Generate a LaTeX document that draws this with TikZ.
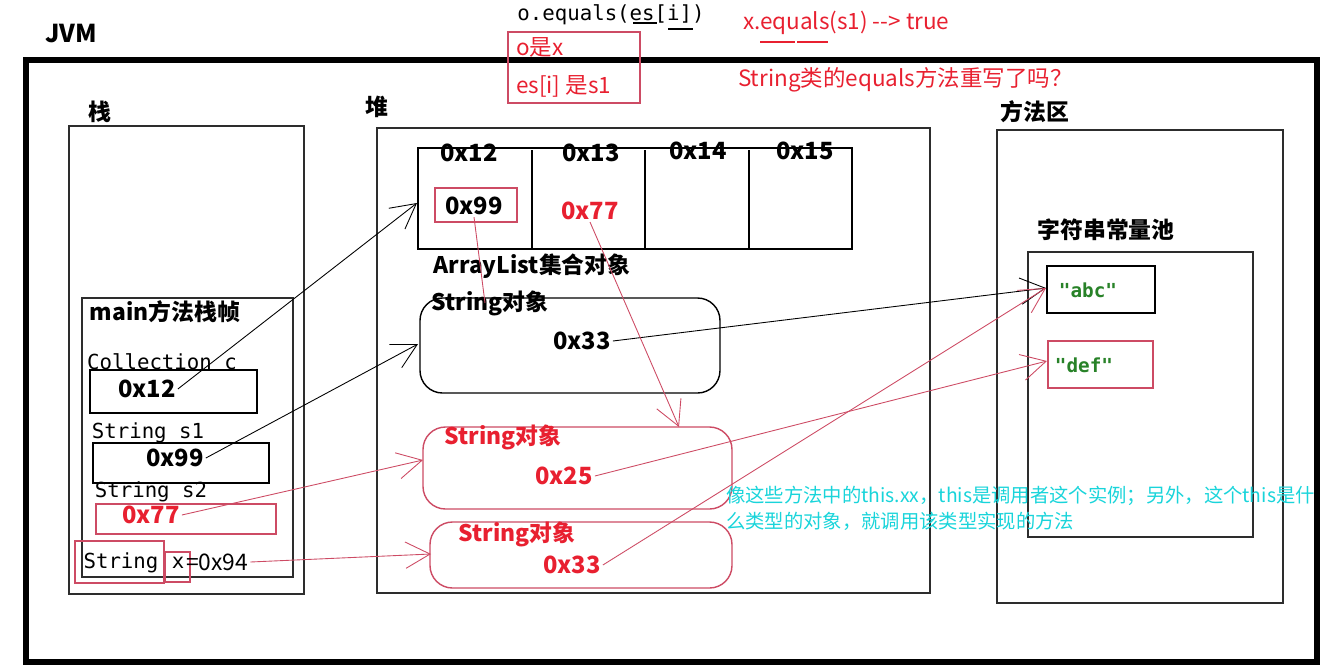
\documentclass[tikz,border=0pt]{standalone}
\usepackage{fontspec}
\setmainfont{Noto Sans CJK SC}
\setmonofont{DejaVu Sans Mono}
\usetikzlibrary{arrows.meta}

\definecolor{memred}{RGB}{232,32,48}
\definecolor{linered}{RGB}{205,75,100}
\definecolor{poolgreen}{RGB}{40,130,40}
\definecolor{notecyan}{RGB}{25,212,218}
\definecolor{framegray}{RGB}{45,45,45}

\begin{document}
\begin{tikzpicture}[
    x=0.02cm, y=-0.02cm,
    every node/.style={inner sep=1pt},
    lbl/.style={font=\fontsize{13}{15}\selectfont\bfseries},
    val/.style={font=\fontsize{13.5}{16}\selectfont\bfseries},
    code/.style={font=\fontsize{11.8}{14}\selectfont\ttfamily},
    note/.style={font=\fontsize{12.8}{15}\selectfont, text=memred},
    pool/.style={font=\fontsize{11}{13}\selectfont\ttfamily\bfseries, text=poolgreen},
    area/.style={draw=framegray, line width=0.8pt},
    cell/.style={draw=black, line width=0.8pt},
    redcell/.style={draw=linered, line width=0.8pt},
    ref/.style={draw=black, line width=0.5pt, -{Straight Barb[length=14pt, width=15pt]}},
    redref/.style={draw=linered, line width=0.5pt, -{Straight Barb[length=14pt, width=15pt]}}
]
    \useasboundingbox (0,0) rectangle (1326,667);

    % JVM
    \node[lbl, font=\fontsize{14}{16}\selectfont\bfseries] (jvm) at (71,34) {JVM};
    \draw[line width=3.6pt] (26,60) rectangle (1317,662);

    % notes on top
    \node[code] (callT) at (611,15) {o.equals(es[i])};
    \draw[line width=0.6pt] (633,23) -- (657,23);
    \draw[line width=0.6pt] (668,29) -- (693,29);
    \draw[linered, line width=0.8pt] (508,32) rectangle (640,103);
    \node[note, anchor=west] (oisx) at (514,47) {o是x};
    \node[note, anchor=west] (esis) at (514,86) {es[i] 是s1};
    \node[note, anchor=west] (xeq) at (741,23) {x.equals(s1) {-}{-}> true};
    \draw[memred, line width=0.6pt] (760,42) -- (795,42);
    \draw[memred, line width=0.6pt] (797,42) -- (828,42);
    \node[note, anchor=west] (overT) at (736,80) {String类的equals方法重写了吗？};

    % stack
    \node[lbl] (stackT) at (100,112) {栈};
    \draw[area] (69,126) rectangle (304,594);
    \draw[area] (82,298) rectangle (293,577);
    \node[lbl] (mainT) at (165,312) {main方法栈帧};
    \node[code] (collT) at (162,362) {Collection c};
    \draw[cell] (90,370) rectangle (257,413);
    \node[val] (c12) at (147,389) {0x12};
    \node[code] (s1T) at (148,433) {String s1};
    \draw[cell] (93,443) rectangle (269,483);
    \node[val] (s99) at (175,458) {0x99};
    \node[code] (s2T) at (151,492) {String s2};
    \draw[redcell] (96,504) rectangle (276,534);
    \node[val, text=memred] (s77) at (151,515) {0x77};
    \draw[redcell] (75,541) rectangle (164,583);
    \draw[redcell] (165,552) rectangle (190,582);
    \node[code] (strT) at (121,563) {String};
    \node[code] (xT) at (178,563) {x};
    \node[font=\fontsize{13}{15}\selectfont, anchor=west] (x94) at (184,562) {=0x94};

    % heap
    \node[lbl] (heapT) at (377,107) {堆};
    \draw[area] (377,128) rectangle (930,593);
    \draw[cell] (418,148) rectangle (852,249);
    \foreach \d in {532,645,749}
        \draw[cell] (\d,150) -- (\d,249);
    \foreach \a/\x/\y in {12/469/153,13/591/153,14/698/151,15/805/151}
        \node[val] (a\a) at (\x,\y) {0x\a};
    \draw[redcell] (435,188) rectangle (517,222);
    \node[val] (e99) at (474,206) {0x99};
    \node[val, text=memred] (e77) at (590,211) {0x77};
    \node[lbl] (alT) at (532,266) {ArrayList集合对象};

    \draw[cell, rounded corners=0.45cm] (420,298) rectangle (720,393);
    \node[lbl] (str1T) at (490,303) {String对象};
    \node[val] (s33a) at (582,341) {0x33};
    \draw[redcell, rounded corners=0.45cm] (423,427) rectangle (732,509);
    \node[lbl, text=memred] (str2T) at (503,437) {String对象};
    \node[val, text=memred] (s25) at (564,476) {0x25};
    \draw[redcell, rounded corners=0.45cm] (430,522) rectangle (732,588);
    \node[lbl, text=memred] (str3T) at (517,534) {String对象};
    \node[val, text=memred] (s33b) at (572,565) {0x33};

    % method area
    \node[lbl] (methodT) at (1035,112) {方法区};
    \draw[area] (997,130) rectangle (1283,603);
    \node[lbl] (poolT) at (1106,230) {字符串常量池};
    \draw[area] (1028,252) rectangle (1253,537);
    \draw[cell] (1047,266) rectangle (1155,313);
    \node[pool] (abc) at (1088,290) {"abc"};
    \draw[redcell] (1048,341) rectangle (1153,388);
    \node[pool] (def) at (1084,365) {"def"};

    % references
    \coordinate (arrIn) at (417,203);
    \coordinate (box1In) at (418,344);
    \coordinate (box1Top) at (485,303);
    \coordinate (box2In) at (423,460);
    \coordinate (box2Top) at (679,427);
    \coordinate (box3In) at (431,554);
    \coordinate (abcIn) at (1046,288);
    \coordinate (defIn) at (1047,361);
    \draw[ref] (c12.east) -- (arrIn);
    \draw[ref] (s99.east) -- (box1In);
    \draw[ref] (s33a.east) -- (abcIn);
    \draw[linered, line width=0.5pt] (e99.south) -- (box1Top);
    \draw[redref] (e77.south) -- (box2Top);
    \draw[redref] (s77.east) -- (box2In);
    \draw[redref] (x94.east) -- (box3In);
    \draw[redref] (s25.east) -- (defIn);
    \draw[redref] (s33b.east) -- (abcIn);

    \node[anchor=north west, align=left, text=notecyan, font=\fontsize{11}{14.7}\selectfont] (noteT) at (724,484)
        {像这些方法中的this.xx，this是调用者这个实例；另外，这个this是什\\么类型的对象，就调用该类型实现的方法};
\end{tikzpicture}
\end{document}
